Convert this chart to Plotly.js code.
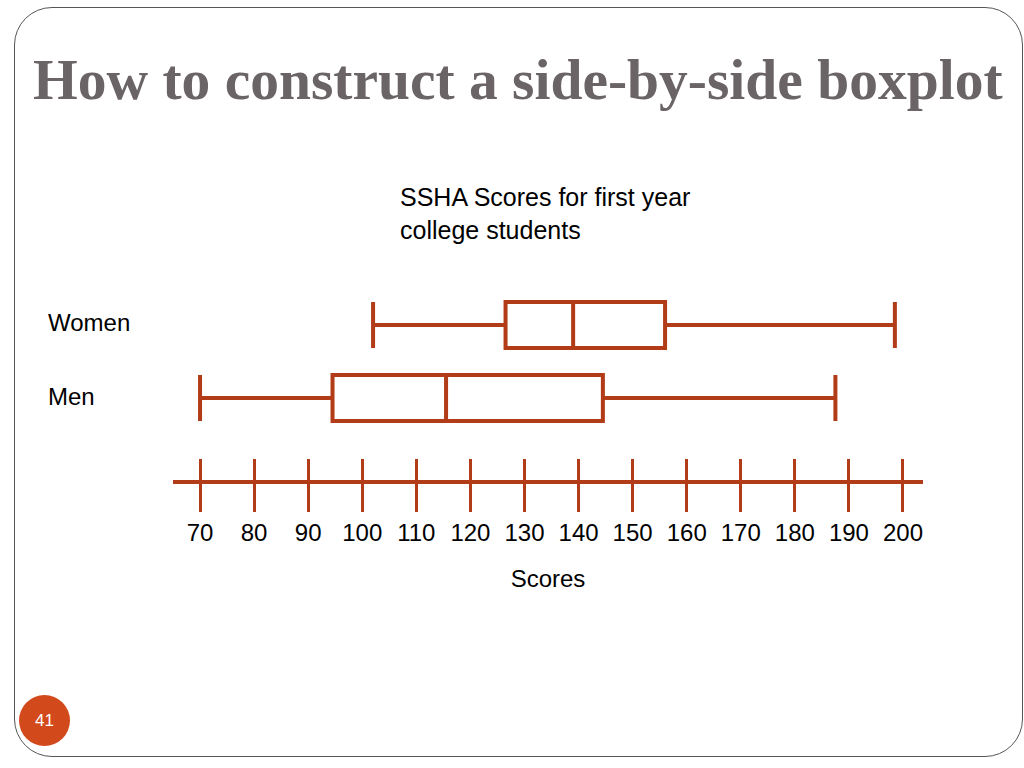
<!DOCTYPE html>
<html>
<head>
<meta charset="utf-8">
<script src="https://cdn.plot.ly/plotly-3.0.1.min.js"></script>
<style>
  html, body { margin: 0; padding: 0; background: #fff; }
  #wrap { position: relative; width: 1024px; height: 768px; overflow: hidden; }
  #chart { position: absolute; left: 0; top: 0; width: 1024px; height: 768px; }
  #frame { position: absolute; left: 14px; top: 7px; width: 1009px; height: 750px;
           border: 1.5px solid #555; border-radius: 38px; pointer-events: none; box-sizing: border-box; }
  #pagenum { position: absolute; left: 19px; top: 695px; width: 51px; height: 51px; border-radius: 50%;
             background: #d24a1b; color: #fff; font: 17px "Liberation Sans", Arial, sans-serif;
             display: flex; align-items: center; justify-content: center; }
</style>
</head>
<body>
<div id="wrap">
  <div id="chart"></div>
  <div id="frame"></div>
  <div id="pagenum">41</div>
</div>
<script>
// ---- data ----
const groups = ['Women', 'Men'];
const minScores = [102, 70];
const q1Scores = [126.5, 94.5];
const medianScores = [139, 115.5];
const q3Scores = [156, 144.5];
const maxScores = [198.5, 187.5];
const tickValues = [70, 80, 90, 100, 110, 120, 130, 140, 150, 160, 170, 180, 190, 200];
const slideTitle = 'How to construct a side-by-side boxplot';
const chartCaption = 'SSHA Scores for first year<br>college students';
const xAxisLabel = 'Scores';

const rust = '#b23c17';
const sans = '"Liberation Sans", Arial, sans-serif';

const boxTrace = {
  type: 'box',
  orientation: 'h',
  y: groups,
  lowerfence: minScores,
  q1: q1Scores,
  median: medianScores,
  q3: q3Scores,
  upperfence: maxScores,
  width: 0.63,
  whiskerwidth: 1,
  boxpoints: false,
  fillcolor: 'rgba(255,255,255,0)',
  line: { color: rust, width: 4 },
  hoverinfo: 'skip',
  showlegend: false
};

// invisible companion trace so the overlaying axis (upward half of the ticks) is drawn
const tickHelper = {
  type: 'scatter',
  mode: 'markers',
  x: tickValues,
  y: tickValues.map(() => groups[groups.length - 1]),
  xaxis: 'x2',
  yaxis: 'y',
  marker: { opacity: 0, size: 1 },
  hoverinfo: 'skip',
  showlegend: false
};

const xRange = [65, 203.7];

const layout = {
  width: 1024,
  height: 768,
  margin: { l: 173, r: 101, t: 290, b: 288, pad: 0 },
  paper_bgcolor: 'rgba(0,0,0,0)',
  plot_bgcolor: 'rgba(0,0,0,0)',
  font: { family: sans, size: 24, color: '#000' },
  title: {
    text: slideTitle,
    xref: 'container', yref: 'container',
    x: 33 / 1024, xanchor: 'left',
    y: 1 - 79 / 768, yanchor: 'middle',
    font: { family: '"Liberation Serif", "Times New Roman", serif', size: 57.5, weight: 700, color: '#6b6466' }
  },
  xaxis: {
    range: xRange,
    tickmode: 'array',
    tickvals: tickValues,
    ticks: 'outside', ticklen: 28, tickwidth: 3, tickcolor: rust,
    showline: true, linecolor: rust, linewidth: 4,
    showgrid: false, zeroline: false,
    tickfont: { family: sans, size: 24, color: '#000' },
    ticklabelstandoff: 0,
    title: { text: xAxisLabel, font: { family: sans, size: 24, color: '#000' }, standoff: 26 },
    fixedrange: true
  },
  xaxis2: {
    overlaying: 'x', anchor: 'y', side: 'bottom',
    range: xRange,
    tickmode: 'array',
    tickvals: tickValues,
    ticks: 'inside', ticklen: 21, tickwidth: 3, tickcolor: rust,
    showticklabels: false, showline: false, showgrid: false, zeroline: false,
    fixedrange: true
  },
  yaxis: {
    type: 'category',
    categoryorder: 'array',
    categoryarray: groups.slice().reverse(),
    range: [-1.123, 1.479],
    visible: false,
    fixedrange: true
  },
  annotations: [
    {
      text: chartCaption, xref: 'paper', yref: 'paper',
      x: (398 - 173) / 750, xanchor: 'left', align: 'left',
      y: (480 - 181) / 190, yanchor: 'top',
      showarrow: false, font: { family: sans, size: 25, color: '#000' }
    }
  ].concat(groups.map(g => ({
    text: g, xref: 'paper', yref: 'y',
    x: (46 - 173) / 750, xanchor: 'left',
    y: g, yanchor: 'middle', yshift: 2,
    showarrow: false, font: { family: sans, size: 24, color: '#000' }
  })))
};

Plotly.newPlot('chart', [boxTrace, tickHelper], layout, { staticPlot: true, displayModeBar: false });
</script>
</body>
</html>
